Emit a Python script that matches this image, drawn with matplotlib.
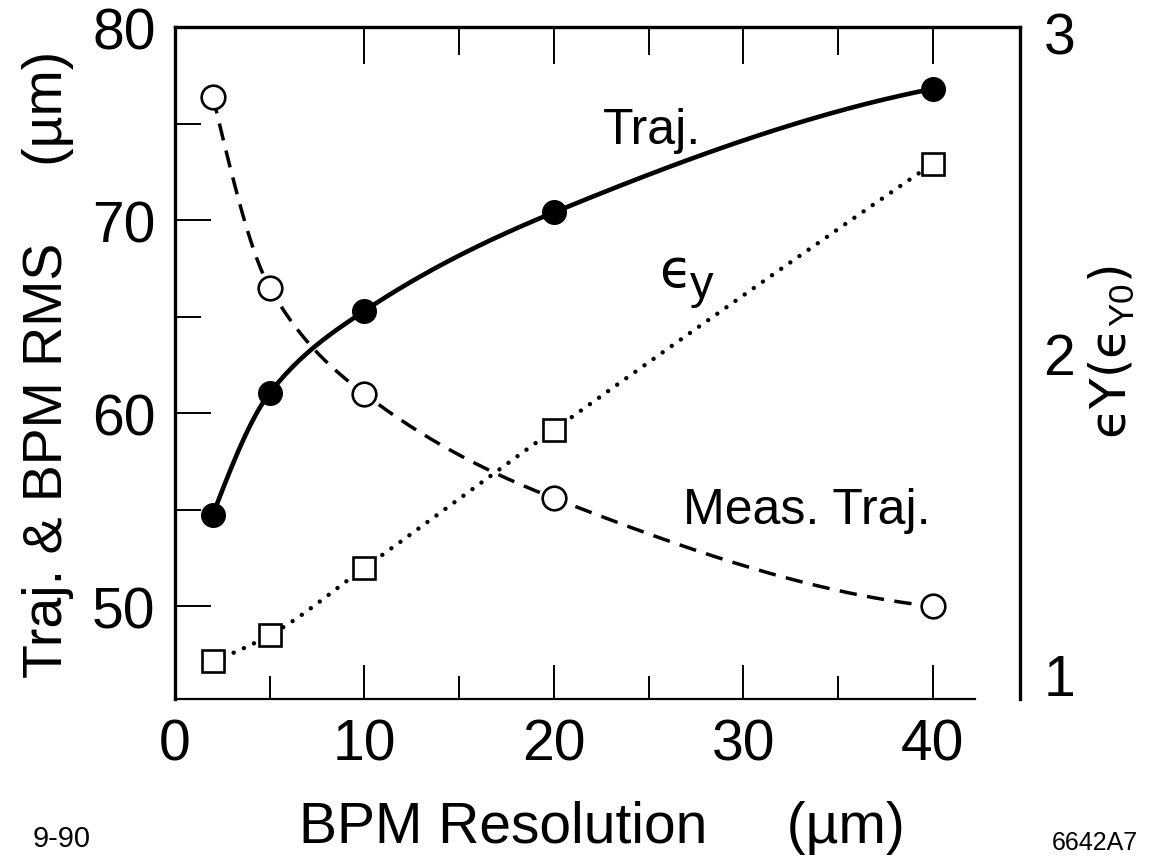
import numpy as np
import matplotlib
matplotlib.use("Agg")
import matplotlib.pyplot as plt

plt.rcParams['font.family'] = ['Liberation Sans', 'DejaVu Sans']
plt.rcParams['mathtext.fontset'] = 'custom'
plt.rcParams['mathtext.rm'] = 'Liberation Sans'
plt.rcParams['mathtext.it'] = 'Liberation Sans'
plt.rcParams['mathtext.fallback'] = 'stixsans'

# ---- data ----
bpm_resolution = [2, 5, 10, 20, 40]                 # um
traj_rms = [54.75, 61.05, 65.3, 70.4, 76.8]         # um, filled circles
meas_traj_rms = [76.4, 66.5, 61.0, 55.6, 50.0]      # um, open circles
emittance = [1.04, 1.12, 1.33, 1.76, 2.59]          # eps_y / eps_y0, open squares

x_major = [0, 10, 20, 30, 40]
x_minor = [5, 15, 25, 35]
top_major = [10, 20, 30, 40]
top_minor = [15, 25, 35]
y_major = [50, 60, 70, 80]
y_minor = [55, 65, 75]
eps_ticks = [1, 2, 3]


def smooth(xs, ys, n=200):
    """Monotone cubic (PCHIP) curve through the points, for drawing the connecting line."""
    x = np.asarray(xs, float)
    y = np.asarray(ys, float)
    h = np.diff(x)
    d = np.diff(y) / h
    m = np.zeros_like(y)
    for k in range(1, len(x) - 1):
        if d[k - 1] * d[k] > 0:
            w1 = 2 * h[k] + h[k - 1]
            w2 = h[k] + 2 * h[k - 1]
            m[k] = (w1 + w2) / (w1 / d[k - 1] + w2 / d[k])
    def endslope(h0, h1, d0, d1):
        s = ((2 * h0 + h1) * d0 - h0 * d1) / (h0 + h1)
        if np.sign(s) != np.sign(d0):
            s = 0.0
        elif np.sign(d0) != np.sign(d1) and abs(s) > abs(3 * d0):
            s = 3 * d0
        return s
    m[0] = endslope(h[0], h[1], d[0], d[1])
    m[-1] = endslope(h[-1], h[-2], d[-1], d[-2])
    xx = np.linspace(x[0], x[-1], n)
    idx = np.clip(np.searchsorted(x, xx) - 1, 0, len(x) - 2)
    t = (xx - x[idx]) / h[idx]
    h00 = 2 * t**3 - 3 * t**2 + 1
    h10 = t**3 - 2 * t**2 + t
    h01 = -2 * t**3 + 3 * t**2
    h11 = t**3 - t**2
    yy = h00 * y[idx] + h10 * h[idx] * m[idx] + h01 * y[idx + 1] + h11 * h[idx] * m[idx + 1]
    return xx, yy


W, H = 1155, 862
fig = plt.figure(figsize=(W / 100, H / 100), dpi=100)
ax = fig.add_axes([175 / W, 162 / H, 845 / W, 672 / H])

ax.set_xlim(0, 44.6)
ax.set_ylim(45.2, 80)

# lines
xs, ys = smooth(bpm_resolution, traj_rms)
ax.plot(xs, ys, color='black', lw=3.3, solid_capstyle='round', zorder=2)
xs, ys = smooth(bpm_resolution, meas_traj_rms)
ax.plot(xs, ys, color='black', lw=2.5, dashes=(5, 3), zorder=2)

ax.plot(bpm_resolution, traj_rms, 'o', ms=16.5, mfc='black', mec='black', mew=1.5, zorder=4)
ax.plot(bpm_resolution, meas_traj_rms, 'o', ms=17, mfc='white', mec='black', mew=1.9, zorder=4)

# spines
for s in ['left', 'top']:
    ax.spines[s].set_linewidth(2.4)
ax.spines['bottom'].set_linewidth(1.6)
ax.spines['right'].set_visible(False)
ax.spines['bottom'].set_bounds(0, 42.2)

ax.set_xticks(x_major)
ax.set_xticks(x_minor, minor=True)
ax.set_yticks(y_major)
ax.set_yticks(y_minor, minor=True)
ax.tick_params(axis='x', which='major', direction='in', length=24.5, width=1.4,
               labelsize=41, pad=13, top=False)
ax.tick_params(axis='x', which='minor', direction='in', length=16.5, width=1.4, top=False)
ax.tick_params(axis='y', which='major', direction='in', length=26, width=1.4,
               labelsize=41, pad=14)
ax.tick_params(axis='y', which='minor', direction='in', length=19, width=1.4)

# top ticks (start at 10)
sec = ax.secondary_xaxis('top')
sec.set_xticks(top_major)
sec.set_xticks(top_minor, minor=True)
sec.tick_params(axis='x', which='major', direction='in', length=26.5, width=1.4,
                labeltop=False)
sec.tick_params(axis='x', which='minor', direction='in', length=20, width=1.4,
                labeltop=False)
sec.spines['top'].set_visible(False)

# right axis: emittance
ax2 = ax.twinx()
ax2.set_ylim(0.921, 3.016)
xs, ys = smooth(bpm_resolution, emittance)
ax2.plot(xs, ys, color='black', lw=3.2, dashes=(0.01, 2.5), dash_capstyle='round', zorder=2)
ax2.plot(bpm_resolution, emittance, 's', ms=16, mfc='white', mec='black', mew=1.9, zorder=4)
ax2.set_yticks(eps_ticks)
ax2.tick_params(axis='y', length=0, labelsize=41, pad=17)
for s in ['left', 'top', 'bottom']:
    ax2.spines[s].set_visible(False)
ax2.spines['right'].set_linewidth(2.4)

# in-plot labels
ax.text(22.6, 73.98, 'Traj.', fontsize=36, ha='left', va='baseline')
ax.text(26.8, 54.34, 'Meas. Traj.', fontsize=36, ha='left', va='baseline')
ax.text(25.55, 66.6, '\u03f5', fontsize=38, ha='left', va='baseline',
        family=['DejaVu Sans'])
ax.text(27.2, 66.0, 'y', fontsize=34, ha='left', va='baseline')

# axis labels
fig.text(602 / W, 1 - 843 / H, 'BPM Resolution     (\u00b5m)', fontsize=41,
         ha='center', va='baseline')
fig.text(48 / W, 1 - 364 / H, 'Traj. & BPM RMS     (\u00b5m)', fontsize=40,
         rotation=90, ha='center', va='center')
fig.text(1112 / W, 1 - 352 / H, '\u03f5Y(\u03f5$_{\\mathrm{Y0}}$)', fontsize=36,
         family=['DejaVu Sans'], rotation=90, ha='center', va='center')

fig.text(33 / W, 1 - 847 / H, '9-90', fontsize=21, ha='left', va='baseline')
fig.text(1138 / W, 1 - 850 / H, '6642A7', fontsize=18, ha='right', va='baseline')

fig.savefig('out.png', dpi=100)
